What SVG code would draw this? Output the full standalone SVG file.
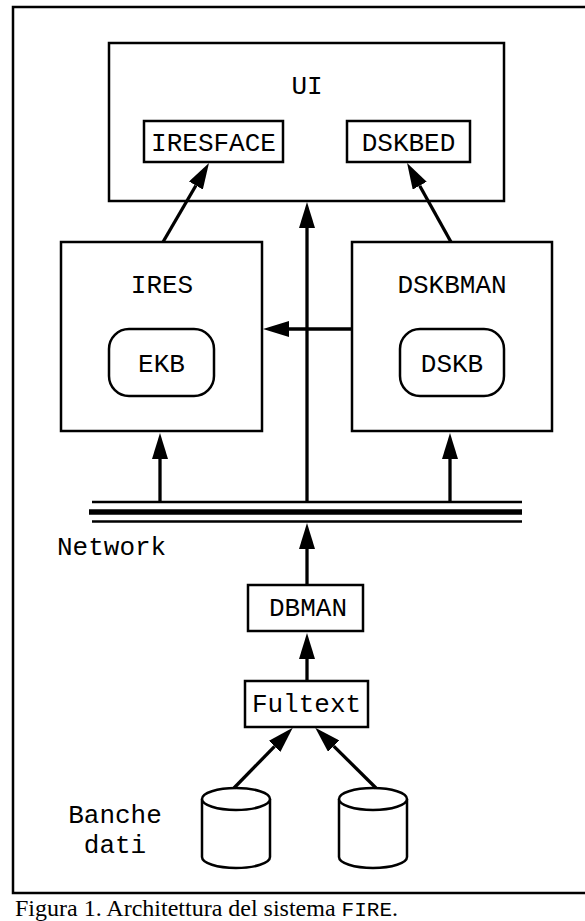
<svg xmlns="http://www.w3.org/2000/svg" width="585" height="921" viewBox="0 0 585 921">
<style>
.box{fill:#fff;stroke:#000;stroke-width:2.5}
.lbl{font-family:"Liberation Mono","Courier New",monospace;font-size:26px;fill:#000;text-anchor:middle}
.conn{stroke:#000;stroke-width:3.3;fill:none}
.net{stroke:#000;fill:none}
.cap{font-family:"Liberation Serif","Times New Roman",serif;font-size:24px;fill:#000}
</style>
<defs>
<marker id="ah" markerUnits="userSpaceOnUse" markerWidth="26" markerHeight="16" viewBox="0 0 26 16" refX="0" refY="8" orient="auto">
<path d="M0,0 L26,8 L0,16 z" fill="#000"/>
</marker>
</defs>
<rect width="585" height="921" fill="#fff"/>
<path d="M586,7 H13 V893 H586" fill="none" stroke="#000" stroke-width="2.5"/>

<g id="UI">
<rect class="box" x="109" y="43" width="395" height="158"/>
<text class="lbl" x="307" y="94">UI</text>
</g>
<g id="IRESFACE">
<rect class="box" x="144" y="121" width="139" height="41"/>
<text class="lbl" x="213.5" y="151">IRESFACE</text>
</g>
<g id="DSKBED">
<rect class="box" x="347" y="121" width="123" height="41"/>
<text class="lbl" x="408.5" y="151">DSKBED</text>
</g>
<g id="IRES">
<rect class="box" x="61" y="242" width="201" height="189"/>
<text class="lbl" x="162" y="293">IRES</text>
</g>
<g id="EKB">
<rect class="box" x="109" y="329" width="105" height="67" rx="20" ry="20"/>
<text class="lbl" x="161.5" y="372">EKB</text>
</g>
<g id="DSKBMAN">
<rect class="box" x="352" y="242" width="200" height="189"/>
<text class="lbl" x="452" y="293">DSKBMAN</text>
</g>
<g id="DSKB">
<rect class="box" x="400" y="329" width="104" height="67" rx="20" ry="20"/>
<text class="lbl" x="452" y="372">DSKB</text>
</g>
<g id="Network">
<line class="net" x1="92" y1="502" x2="522" y2="502" stroke-width="2.5"/>
<line class="net" x1="89" y1="512" x2="522" y2="512" stroke-width="5.5"/>
<line class="net" x1="92" y1="521.5" x2="522" y2="521.5" stroke-width="2.5"/>
<text class="lbl" x="57" y="555" style="text-anchor:start">Network</text>
</g>
<g id="DBMAN">
<rect class="box" x="248" y="585" width="115" height="46"/>
<text class="lbl" x="308" y="616">DBMAN</text>
</g>
<g id="Fultext">
<rect class="box" x="245" y="681" width="123" height="46"/>
<text class="lbl" x="306.5" y="712">Fultext</text>
</g>
<g id="DB1">
<path class="box" d="M202,799 V857 A34,11 0 0 0 270,857 V799"/>
<ellipse class="box" cx="236" cy="799" rx="34" ry="11"/>
</g>
<g id="DB2">
<path class="box" d="M339,799 V857 A34,11 0 0 0 407,857 V799"/>
<ellipse class="box" cx="373" cy="799" rx="34" ry="11"/>
</g>
<g id="BancheDati">
<text class="lbl" x="115" y="823">Banche</text>
<text class="lbl" x="115" y="853">dati</text>
</g>

<g id="connectors">
<line class="conn" x1="163" y1="242" x2="195.9" y2="185.5" marker-end="url(#ah)"/>
<line class="conn" x1="451" y1="242" x2="419.7" y2="185.7" marker-end="url(#ah)"/>
<line class="conn" x1="307" y1="502" x2="307" y2="228" marker-end="url(#ah)"/>
<line class="conn" x1="352" y1="329" x2="289" y2="329" marker-end="url(#ah)"/>
<line class="conn" x1="160" y1="502" x2="160" y2="459" marker-end="url(#ah)"/>
<line class="conn" x1="450" y1="502" x2="450" y2="459" marker-end="url(#ah)"/>
<line class="conn" x1="307" y1="585" x2="307" y2="549" marker-end="url(#ah)"/>
<line class="conn" x1="307" y1="681" x2="307" y2="659" marker-end="url(#ah)"/>
<line class="conn" x1="234" y1="788" x2="274.6" y2="746.4" marker-end="url(#ah)"/>
<line class="conn" x1="376" y1="788" x2="333.7" y2="746.1" marker-end="url(#ah)"/>
</g>

<text class="cap" x="15" y="916">Figura 1. Architettura del sistema <tspan style="font-family:'Liberation Mono','Courier New',monospace;font-size:21px">FIRE</tspan>.</text>
</svg>
